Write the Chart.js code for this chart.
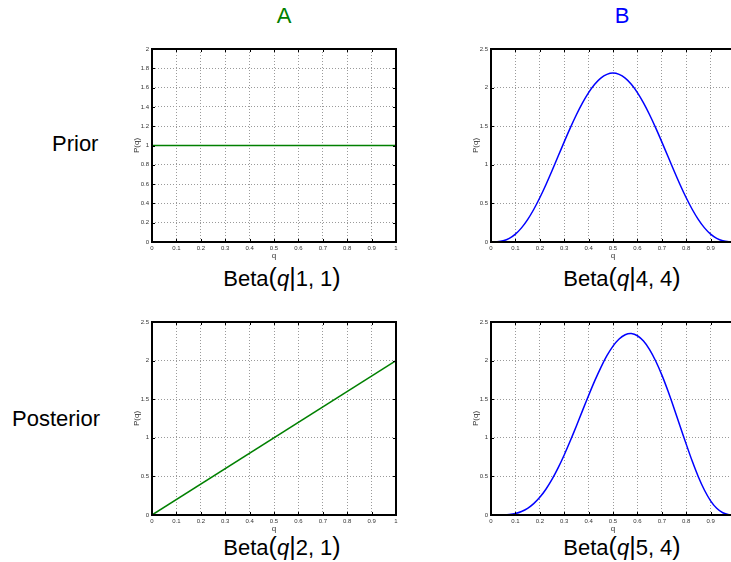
<!DOCTYPE html>
<html>
<head>
<meta charset="utf-8">
<script src="https://cdn.jsdelivr.net/npm/chart.js@4.4.0/dist/chart.umd.min.js"></script>
<style>
    html, body { margin: 0; padding: 0; background: #fff; }
    body { width: 731px; height: 562px; position: relative; overflow: hidden; font-family: "Liberation Sans", Arial, sans-serif; }
    .panel { position: absolute; }
    .txt { position: absolute; font-size: 22px; line-height: 22px; white-space: nowrap; color: #000; }
    .center { width: 200px; text-align: center; }
    .big { font-size: 25px; }
</style>
</head>
<body>

<div class="txt center" style="left:184px; top:5px; color:#008000;">A</div>
<div class="txt center" style="left:522px; top:5px; color:#0000ff;">B</div>
<div class="txt" style="left:52px; top:133px;">Prior</div>
<div class="txt" style="left:12px; top:408px;">Posterior</div>

<div class="txt center" style="left:182px; top:266px;">Beta<span class="big">(</span><i>q</i><span class="big">|</span>1, 1<span class="big">)</span></div>
<div class="txt center" style="left:522px; top:266px;">Beta<span class="big">(</span><i>q</i><span class="big">|</span>4, 4<span class="big">)</span></div>
<div class="txt center" style="left:182px; top:535px;">Beta<span class="big">(</span><i>q</i><span class="big">|</span>2, 1<span class="big">)</span></div>
<div class="txt center" style="left:522px; top:535px;">Beta<span class="big">(</span><i>q</i><span class="big">|</span>5, 4<span class="big">)</span></div>

<div class="panel" style="left:112px; top:39px;"><canvas id="chart-tl" width="294" height="227"></canvas></div>
<div class="panel" style="left:451px; top:39px;"><canvas id="chart-tr" width="294" height="227"></canvas></div>
<div class="panel" style="left:112px; top:312px;"><canvas id="chart-bl" width="294" height="227"></canvas></div>
<div class="panel" style="left:451px; top:312px;"><canvas id="chart-br" width="294" height="227"></canvas></div>

<script>
// column A: flat prior and straight-line posterior
const qLine = [0, 1];
const priorA = [1, 1];
const posteriorA = [0, 2];

// column B: bell-shaped prior and posterior, every 0.025
const qCurve = [
    0, 0.025, 0.05, 0.075, 0.1, 0.125, 0.15, 0.175, 0.2, 0.225,
    0.25, 0.275, 0.3, 0.325, 0.35, 0.375, 0.4, 0.425, 0.45, 0.475,
    0.5, 0.525, 0.55, 0.575, 0.6, 0.625, 0.65, 0.675, 0.7, 0.725,
    0.75, 0.775, 0.8, 0.825, 0.85, 0.875, 0.9, 0.925, 0.95, 0.975, 1
];
const priorB = [
    0, 0.002, 0.015, 0.047, 0.102, 0.183, 0.290, 0.421, 0.573, 0.742,
    0.923, 1.110, 1.297, 1.478, 1.648, 1.802, 1.935, 2.043, 2.123, 2.171,
    2.188, 2.171, 2.123, 2.043, 1.935, 1.802, 1.648, 1.478, 1.297, 1.110,
    0.923, 0.742, 0.573, 0.421, 0.290, 0.183, 0.102, 0.047, 0.015, 0.002, 0
];
const posteriorB = [
    0, 0.0001, 0.002, 0.007, 0.020, 0.046, 0.087, 0.148, 0.229, 0.334,
    0.461, 0.610, 0.778, 0.961, 1.154, 1.352, 1.548, 1.737, 1.910, 2.063,
    2.188, 2.280, 2.335, 2.350, 2.322, 2.253, 2.143, 1.995, 1.815, 1.609,
    1.384, 1.151, 0.918, 0.695, 0.493, 0.321, 0.184, 0.087, 0.029, 0.004, 0
];

const GREEN = '#008000';
const BLUE = '#0000ff';

// Black box round the plot area with small inward tick marks (MATLAB style)
const boxPlugin = {
    id: 'box',
    afterDraw(chart) {
        const { ctx, chartArea: a, scales } = chart;
        ctx.save();
        ctx.strokeStyle = '#000';
        ctx.lineWidth = 1;
        const len = 3;
        scales.x.ticks.forEach(t => {
            const px = Math.round(scales.x.getPixelForValue(t.value)) + 0.5;
            ctx.beginPath();
            ctx.moveTo(px, a.bottom); ctx.lineTo(px, a.bottom - len);
            ctx.moveTo(px, a.top); ctx.lineTo(px, a.top + len);
            ctx.stroke();
        });
        scales.y.ticks.forEach(t => {
            const py = Math.round(scales.y.getPixelForValue(t.value)) + 0.5;
            ctx.beginPath();
            ctx.moveTo(a.left, py); ctx.lineTo(a.left + len, py);
            ctx.moveTo(a.right, py); ctx.lineTo(a.right - len, py);
            ctx.stroke();
        });
        ctx.lineWidth = 2;
        ctx.strokeRect(a.left, a.top, a.right - a.left, a.bottom - a.top);
        ctx.restore();
    }
};

function fmt(v) {
    return String(Math.round(v * 10) / 10);
}

function makePanel(canvasId, xs, ys, color, yMax, yStep, smooth) {
    const points = xs.map((x, i) => ({ x: x, y: ys[i] }));
    const tickFont = { family: '"Liberation Sans", Arial, sans-serif', size: 6 };
    const titleFont = { family: '"Liberation Sans", Arial, sans-serif', size: 8 };

    new Chart(document.getElementById(canvasId), {
        type: 'line',
        data: {
            datasets: [{
                data: points,
                borderColor: color,
                backgroundColor: 'transparent',
                borderWidth: 1.5,
                pointRadius: 0,
                fill: false,
                tension: smooth ? 0.3 : 0
            }]
        },
        options: {
            responsive: false,
            animation: false,
            layout: { padding: { top: 10, right: 10, left: 0, bottom: 0 } },
            plugins: {
                legend: { display: false },
                tooltip: { enabled: false }
            },
            scales: {
                x: {
                    type: 'linear',
                    min: 0,
                    max: 1,
                    afterFit(scale) { scale.height = 24; },
                    grid: { color: '#9a9a9a', drawTicks: false, lineWidth: 1 },
                    border: { display: false, dash: [1, 2] },
                    ticks: { stepSize: 0.1, font: tickFont, color: '#333', padding: 3, maxRotation: 0, callback: fmt },
                    title: { display: true, text: 'q', font: titleFont, color: '#333', padding: { top: 0, bottom: 5 } }
                },
                y: {
                    min: 0,
                    max: yMax,
                    afterFit(scale) { scale.width = 40; },
                    grid: { color: '#9a9a9a', drawTicks: false, lineWidth: 1 },
                    border: { display: false, dash: [1, 2] },
                    ticks: { stepSize: yStep, font: tickFont, color: '#333', padding: 3, callback: fmt },
                    title: { display: true, text: 'P(q)', font: titleFont, color: '#333', padding: { top: 20, bottom: 0 } }
                }
            }
        },
        plugins: [boxPlugin]
    });
}

makePanel('chart-tl', qLine, priorA, GREEN, 2, 0.2, false);
makePanel('chart-tr', qCurve, priorB, BLUE, 2.5, 0.5, true);
makePanel('chart-bl', qLine, posteriorA, GREEN, 2.5, 0.5, false);
makePanel('chart-br', qCurve, posteriorB, BLUE, 2.5, 0.5, true);
</script>
</body>
</html>
